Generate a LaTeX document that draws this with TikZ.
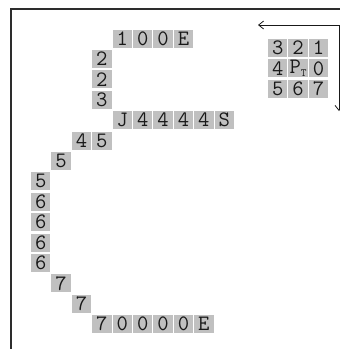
\documentclass[tikz,border=0pt]{standalone}
\usepackage{tikz}
\usetikzlibrary{arrows.meta}
\definecolor{cellgray}{RGB}{192,192,192}
\definecolor{framegray}{RGB}{45,45,45}
\definecolor{inkgray}{RGB}{25,25,25}

% one row of cells: name, first column, row, characters
\newcommand{\cellrow}[4]{%
  \foreach \ch [count=\k from 0] in {#4} {
    \node[cell] (#1-\k) at ({31+20.4*(#2+\k)+9.7}, {29.5+20.4*#3+9}) {\ch};
  }%
}

\begin{document}
\begin{tikzpicture}[
  x=1pt, y=-1pt,
  cell/.style={fill=cellgray, minimum width=19.4pt, minimum height=18pt, inner sep=0pt,
    text=inkgray, font=\ttfamily\fontsize{22}{22}\selectfont},
  framer/.style={draw=framegray, line width=1.8pt},
  rotarrow/.style={{Straight Barb[length=5pt,width=8pt]}-{Straight Barb[length=5pt,width=8pt]}, thick, inkgray}
]
\useasboundingbox (0,0) rectangle (340,349);

% frame
\coordinate (frameBL) at (11,352);
\coordinate (frameTR) at (343,9);
\draw[framer] (frameBL) |- (frameTR);

% chain code path
\cellrow{rA}{4}{0}{1,0,0,E}
\cellrow{rB}{3}{1}{2}
\cellrow{rC}{3}{2}{2}
\cellrow{rD}{3}{3}{3}
\cellrow{rE}{4}{4}{J,4,4,4,4,S}
\cellrow{rF}{2}{5}{4,5}
\cellrow{rG}{1}{6}{5}
\cellrow{rH}{0}{7}{5}
\cellrow{rI}{0}{8}{6}
\cellrow{rJ}{0}{9}{6}
\cellrow{rK}{0}{10}{6}
\cellrow{rL}{0}{11}{6}
\cellrow{rM}{1}{12}{7}
\cellrow{rN}{2}{13}{7}
\cellrow{rO}{3}{14}{7,0,0,0,0,E}

% direction grid
\begin{scope}[shift={(237,9.5)}]
  \cellrow{gA}{0}{0}{3,2,1}
  \cellrow{gB}{0}{1}{4,{P\raisebox{-3pt}{\fontsize{11}{11}\selectfont T}},0}
  \cellrow{gC}{0}{2}{5,6,7}
\end{scope}

% turning arrow
\coordinate (arrL) at (258,25);
\coordinate (arrB) at (339,111);
\draw[rotarrow] (arrL) -| (arrB);

\end{tikzpicture}
\end{document}
